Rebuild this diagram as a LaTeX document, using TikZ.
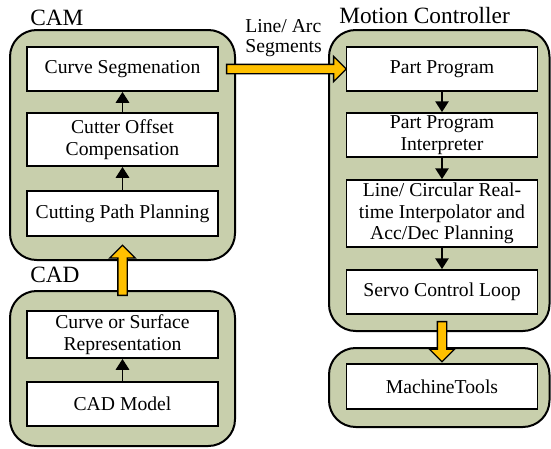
\documentclass[tikz,border=0pt]{standalone}
\usepackage{fontspec}
\setmainfont{Liberation Serif}
\usetikzlibrary{shapes.arrows,arrows.meta,calc}
\usepackage{xcolor}
\definecolor{sage}{HTML}{C8CFAC}
\definecolor{gold}{HTML}{FFC000}

\begin{document}
\begin{tikzpicture}[x=0.6pt, y=-0.6pt,
		every node/.style={font=\fontsize{11.8}{13}\selectfont},
		group/.style={draw, line width=1.2pt, fill=sage, rounded corners=16pt, inner sep=0pt},
		stage/.style={draw, line width=1.1pt, fill=white, align=center, inner sep=0pt, minimum width=114.6pt},
		title/.style={anchor=base west, inner sep=0pt, font=\fontsize{14}{16}\selectfont},
		link/.style={line width=1.1pt, -{Triangle[width=8pt,length=6.5pt]}},
		flowarrow/.style={single arrow, draw, line width=0.8pt, fill=gold, inner sep=2.4pt,
			single arrow head extend=4.8pt, single arrow head indent=0pt},
		flowto/.style={to path={
			let \p1=(\tikztostart), \p2=(\tikztotarget), \n1={veclen(\x2-\x1,\y2-\y1)} in
			node[flowarrow, minimum height=\n1, shape border rotate=#1, anchor=tail] at (\p1) {}
		}}
	]
	\useasboundingbox (0,0) rectangle (551,448);
	%
	% CAM
	\node[group, minimum width=135pt, minimum height=138pt] (cam) at (122.5,145) {};
	\node[title] (camtitle) at (30,25) {CAM};
	\node[stage, minimum height=26.4pt] (seg) at (122.5,69) {Curve Segmenation};
	\node[stage, minimum height=31.8pt] (coc) at (122.5,139.5) {Cutter Offset\\Compensation};
	\node[stage, minimum height=27pt] (cpp) at (122.5,213.5) {Cutting Path Planning};
	\draw[link] (coc) -- (seg);
	\draw[link] (cpp) -- (coc);
	%
	% CAD
	\node[group, minimum width=135pt, minimum height=93pt] (cad) at (122.5,368.5) {};
	\node[title] (cadtitle) at (30,282) {CAD};
	\node[stage, minimum height=28.2pt] (rep) at (122.5,334.5) {Curve or Surface\\Representation};
	\node[stage, minimum height=26.4pt] (model) at (122.5,404) {CAD Model};
	\draw[link] (model) -- (rep);
	%
	% Motion Controller
	\node[group, minimum width=132.3pt, minimum height=180.6pt] (mc) at (439.25,180.5) {};
	\node[title] (mctitle) at (339,23) {Motion Controller};
	\node[stage, minimum height=26.4pt] (pp) at (442,69) {Part Program};
	\node[stage, minimum height=26.4pt] (ppi) at (442,135) {Part Program\\Interpreter};
	\node[stage, minimum height=40.2pt] (lci) at (442,213.5) {Line/ Circular Real-\\time Interpolator and\\Acc/Dec Planning};
	\node[stage, minimum height=26.4pt] (servo) at (442,292) {Servo Control Loop};
	\draw[link] (pp) -- (ppi);
	\draw[link] (ppi) -- (lci);
	\draw[link] (lci) -- (servo);
	%
	% Machine
	\node[group, minimum width=132.3pt, minimum height=47.4pt] (mt) at (439.25,387.5) {};
	\node[stage, minimum height=27pt] (mtbox) at (442,386.5) {MachineTools};
	%
	% data flow
	\path[flowto=90] ($(cad.north)+(0,6)$) to ($(cpp.south)+(0,9)$);
	\path[flowto=0] ($(seg.east)+(7,0)$) to (pp.west);
	\path[flowto=270] ($(servo.south)+(0,6)$) to ($(mtbox.north)+(0,-2)$);
	\node[anchor=north west, align=left, inner sep=0pt, font=\fontsize{11.8}{12}\selectfont] (seglabel) at (245,19.5) {Line/ Arc\\Segments};
\end{tikzpicture}
\end{document}
